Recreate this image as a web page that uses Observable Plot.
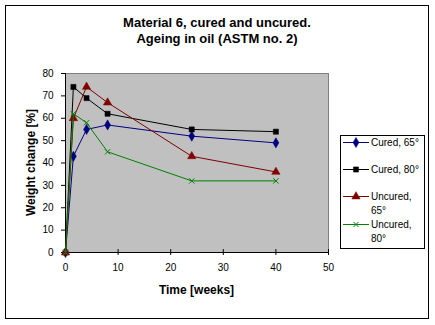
<!DOCTYPE html>
<html>
<head>
<meta charset="utf-8">
<script src="https://cdn.jsdelivr.net/npm/d3@7"></script>
<script src="https://cdn.jsdelivr.net/npm/@observablehq/plot@0.6"></script>
<style>
  html, body { margin: 0; padding: 0; background: white; }
</style>
</head>
<body>
<div id="chart"></div>
<script>
// ---- Data ----
const titleLines = ["Material 6, cured and uncured.", "Ageing in oil (ASTM no. 2)"];
const xLabel = "Time [weeks]";
const yLabel = "Weight change [%]";
const xTicks = [0, 10, 20, 30, 40, 50];
const yTicks = [0, 10, 20, 30, 40, 50, 60, 70, 80];
const weeks = [0, 1.5, 4, 8, 24, 40];
const cured65 = [0, 43, 55, 57, 52, 49];
const cured80 = [0, 74, 69, 62, 55, 54];
const uncured65 = [0, 60, 74, 67, 43, 36];
const uncured80 = [0, 62, 58, 45, 32, 32];
const seriesNames = ["Cured, 65°", "Cured, 80°", "Uncured, 65°", "Uncured, 80°"];
const legendLines = [["Cured, 65°"], ["Cured, 80°"], ["Uncured,", "65°"], ["Uncured,", "80°"]];
const seriesValues = [cured65, cured80, uncured65, uncured80];
const seriesColors = ["#000080", "#000000", "#800000", "#008000"];
const seriesSymbols = ["diamond", "square", "triangle", "times"];

const FONT = "Arial, 'Liberation Sans', sans-serif";

const rows = [];
seriesNames.forEach((s, i) => {
  weeks.forEach((w, j) => rows.push({series: s, week: w, value: seriesValues[i][j]}));
});

const symR = sym => sym === "times" ? 2.5 : sym === "square" ? 2.9 : 3.1;

const seriesMarks = [];
seriesNames.forEach((s, i) => {
  const d = rows.filter(r => r.series === s);
  seriesMarks.push(Plot.line(d, {x: "week", y: "value", stroke: seriesColors[i], strokeWidth: 1}));
  const filled = seriesSymbols[i] !== "times";
  seriesMarks.push(Plot.dot(d, {
    x: "week", y: "value", symbol: () => seriesSymbols[i], r: symR(seriesSymbols[i]),
    fill: filled ? seriesColors[i] : "none",
    stroke: seriesColors[i], strokeWidth: filled ? 0.5 : 1
  }));
});

const chart = Plot.plot({
  width: 435, height: 325,
  marginLeft: 65, marginRight: 107, marginTop: 73, marginBottom: 73,
  style: {fontFamily: FONT, fontSize: "10px", background: "white", color: "black", overflow: "visible"},
  x: {domain: [0, 50], label: null},
  y: {domain: [0, 80], label: null},
  symbol: {type: "identity"},
  marks: [
    Plot.frame({fill: "#c0c0c0", stroke: "#808080"}),
    Plot.axisX({ticks: xTicks, tickSize: 3, tickPadding: 8, label: null, fontSize: 10}),
    Plot.axisY({ticks: yTicks, tickSize: 4, tickPadding: 8, label: null, fontSize: 10}),
    Plot.ruleX(xTicks, {x: d => d, y1: 0, y2: 1.3, stroke: "black"}),
    Plot.ruleY([0], {stroke: "black"}),
    Plot.ruleX([0], {stroke: "black"}),
    ...seriesMarks
  ]
});

document.getElementById("chart").appendChild(chart);

// ---- Decorations: outer frame, titles, legend ----
const svg = d3.select(chart);
svg.insert("rect", ":first-child")
  .attr("x", 5.5).attr("y", 5.5).attr("width", 423).attr("height", 313)
  .attr("fill", "white").attr("stroke", "black").attr("stroke-width", 1);

const t = svg.append("g").attr("font-family", FONT).attr("fill", "black").attr("text-anchor", "middle");
t.append("text").attr("x", 217).attr("y", 27).attr("font-size", 13).attr("font-weight", "bold").text(titleLines[0]);
t.append("text").attr("x", 217).attr("y", 42.5).attr("font-size", 13).attr("font-weight", "bold").text(titleLines[1]);
t.append("text").attr("x", 196.5).attr("y", 294).attr("font-size", 12).attr("font-weight", "bold").text(xLabel);
t.append("text").attr("transform", "translate(35,162.5) rotate(-90)")
  .attr("font-size", 12).attr("font-weight", "bold").text(yLabel);

const lg = svg.append("g").attr("font-family", FONT).attr("font-size", 10).attr("text-anchor", "start");
lg.append("rect").attr("x", 340.5).attr("y", 135.5).attr("width", 84).attr("height", 113)
  .attr("fill", "white").attr("stroke", "black");
const entryY = [142.5, 169.5, 196.5, 224.5];
const symMap = {diamond: d3.symbolDiamond, square: d3.symbolSquare, triangle: d3.symbolTriangle, times: d3.symbolTimes};
seriesNames.forEach((s, i) => {
  const y = entryY[i];
  lg.append("line").attr("x1", 343).attr("x2", 369).attr("y1", y).attr("y2", y)
    .attr("stroke", seriesColors[i]);
  const filled = seriesSymbols[i] !== "times";
  const r = symR(seriesSymbols[i]);
  lg.append("path").attr("transform", `translate(356,${y})`)
    .attr("d", d3.symbol(symMap[seriesSymbols[i]], r * r * Math.PI)())
    .attr("fill", filled ? seriesColors[i] : "none")
    .attr("stroke", seriesColors[i]).attr("stroke-width", filled ? 0.5 : 1);
  legendLines[i].forEach((line, k) => {
    lg.append("text").attr("x", 371).attr("y", y + 3.5 + k * 14).text(line);
  });
});
</script>
</body>
</html>
